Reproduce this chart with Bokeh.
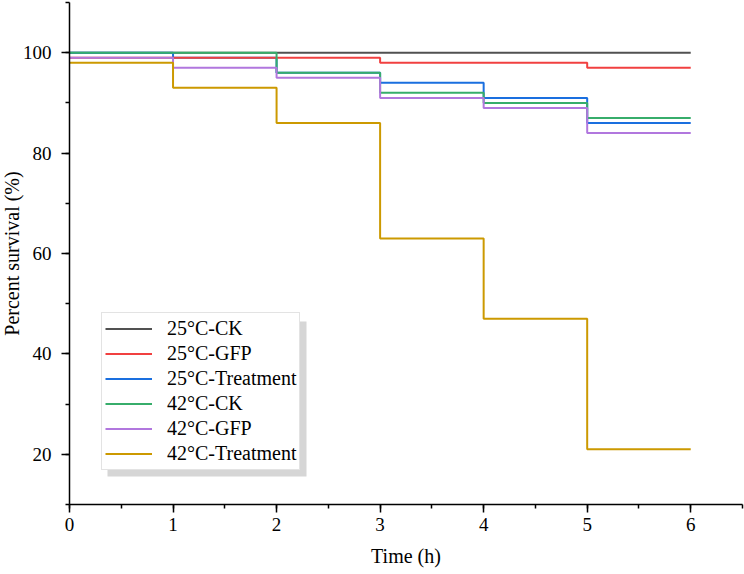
from bokeh.plotting import figure
from bokeh.models import Range1d, Legend, LegendItem, BoxAnnotation, SingleIntervalTicker, Title
from bokeh.embed import file_html
from bokeh.resources import INLINE

# ---- data ----
time_h = [0, 1, 2, 3, 4, 5, 6]
s25_ck = [100, 100, 100, 100, 100, 100, 100]
s25_gfp = [99, 99, 99, 98, 98, 97, 97]
s25_trt = [100, 99, 96, 94, 91, 86, 86]
s42_ck = [100, 100, 96, 92, 90, 87, 87]
s42_gfp = [99, 97, 95, 91, 89, 84, 84]
s42_trt = [98, 93, 86, 63, 47, 21, 21]
labels = ["25\u00b0C-CK", "25\u00b0C-GFP", "25\u00b0C-Treatment",
          "42\u00b0C-CK", "42\u00b0C-GFP", "42\u00b0C-Treatment"]
colors = ["#515151", "#F14040", "#1A6FDF", "#37AD6B", "#B177DE", "#CC9900"]
series = [s25_ck, s25_gfp, s25_trt, s42_ck, s42_gfp, s42_trt]
draw_order = [0, 2, 1, 3, 4, 5]
x_title = "Time (h)"
y_title = "Percent survival (%)"

FONT = "Liberation Serif"
W, H = 744, 574
ML, MR, MT, MB = 69, 2, 2, 70
X0, X1, Y0, Y1 = 0, 6.5, 10, 110

p = figure(width=W, height=H, output_backend="svg", toolbar_location=None,
           x_range=Range1d(X0, X1), y_range=Range1d(Y0, Y1),
           min_border_left=ML, min_border_right=MR, min_border_top=MT,
           min_border_bottom=MB)
p.outline_line_color = None
p.grid.grid_line_color = None
p.background_fill_color = "white"
p.border_fill_color = "white"

renderers = {}
for i in draw_order:
    r = p.step(time_h, series[i], mode="after", line_color=colors[i], line_width=2)
    renderers[i] = r

# axes
for ax in (p.xaxis[0], p.yaxis[0]):
    ax.axis_line_color = "black"
    ax.axis_line_width = 1.5
    ax.major_tick_line_color = "black"
    ax.major_tick_line_width = 1.5
    ax.minor_tick_line_color = "black"
    ax.minor_tick_line_width = 1.5
    ax.major_tick_in = 0
    ax.major_tick_out = 8
    ax.minor_tick_in = 0
    ax.minor_tick_out = 4
    ax.major_label_text_font = FONT
    ax.major_label_text_font_size = "19px"
    ax.major_label_text_font_style = "normal"
    ax.major_label_text_color = "black"
    ax.axis_label_text_font = FONT
    ax.axis_label_text_font_size = "20px"
    ax.axis_label_text_font_style = "normal"
    ax.axis_label_text_color = "black"

p.xaxis.ticker = SingleIntervalTicker(interval=1, num_minor_ticks=2)
p.yaxis.ticker = SingleIntervalTicker(interval=20, num_minor_ticks=2)
p.xaxis.axis_label = x_title
p.xaxis.major_label_standoff = 5
p.yaxis.major_label_standoff = 10
p.xaxis.axis_label_standoff = 11

# y-axis title as a side-panel title (stacked outside the y axis)
ytitle = Title(text=y_title, align="center", text_font=FONT, text_font_size="20px",
               text_font_style="normal", text_color="black", standoff=-6, offset=0)
p.add_layout(ytitle, "left")

# legend with shadow (positions in screen px relative to frame)
fw = W - ML - MR
fh = H - MT - MB
def px2x(px):
    return X0 + px / fw * (X1 - X0)
def py2y(py):
    return Y0 + py / fh * (Y1 - Y0)
leg_left, leg_bottom = 32, 34
leg_w, leg_h = 199, 155
sh = 6
shadow = BoxAnnotation(left=px2x(leg_left + sh), right=px2x(leg_left + leg_w + sh),
                       bottom=py2y(leg_bottom - sh), top=py2y(leg_bottom + leg_h - sh),
                       fill_color="#d6d6d6", fill_alpha=1.0, line_color=None)
p.add_layout(shadow)

items = [LegendItem(label=labels[i], renderers=[renderers[i]]) for i in range(6)]
legend = Legend(items=items, location=(leg_left, leg_bottom))
legend.margin = 0
legend.padding = 3
legend.spacing = 0
legend.glyph_width = 47
legend.glyph_height = 25
legend.label_height = 25
legend.label_standoff = 15
legend.label_text_font = FONT
legend.label_text_font_size = "20px"
legend.label_text_color = "black"
legend.border_line_color = "#c8c8c8"
legend.border_line_width = 1
legend.background_fill_color = "white"
legend.background_fill_alpha = 1.0
p.add_layout(legend, "center")

open("out.html", "w").write(file_html(p, INLINE))
